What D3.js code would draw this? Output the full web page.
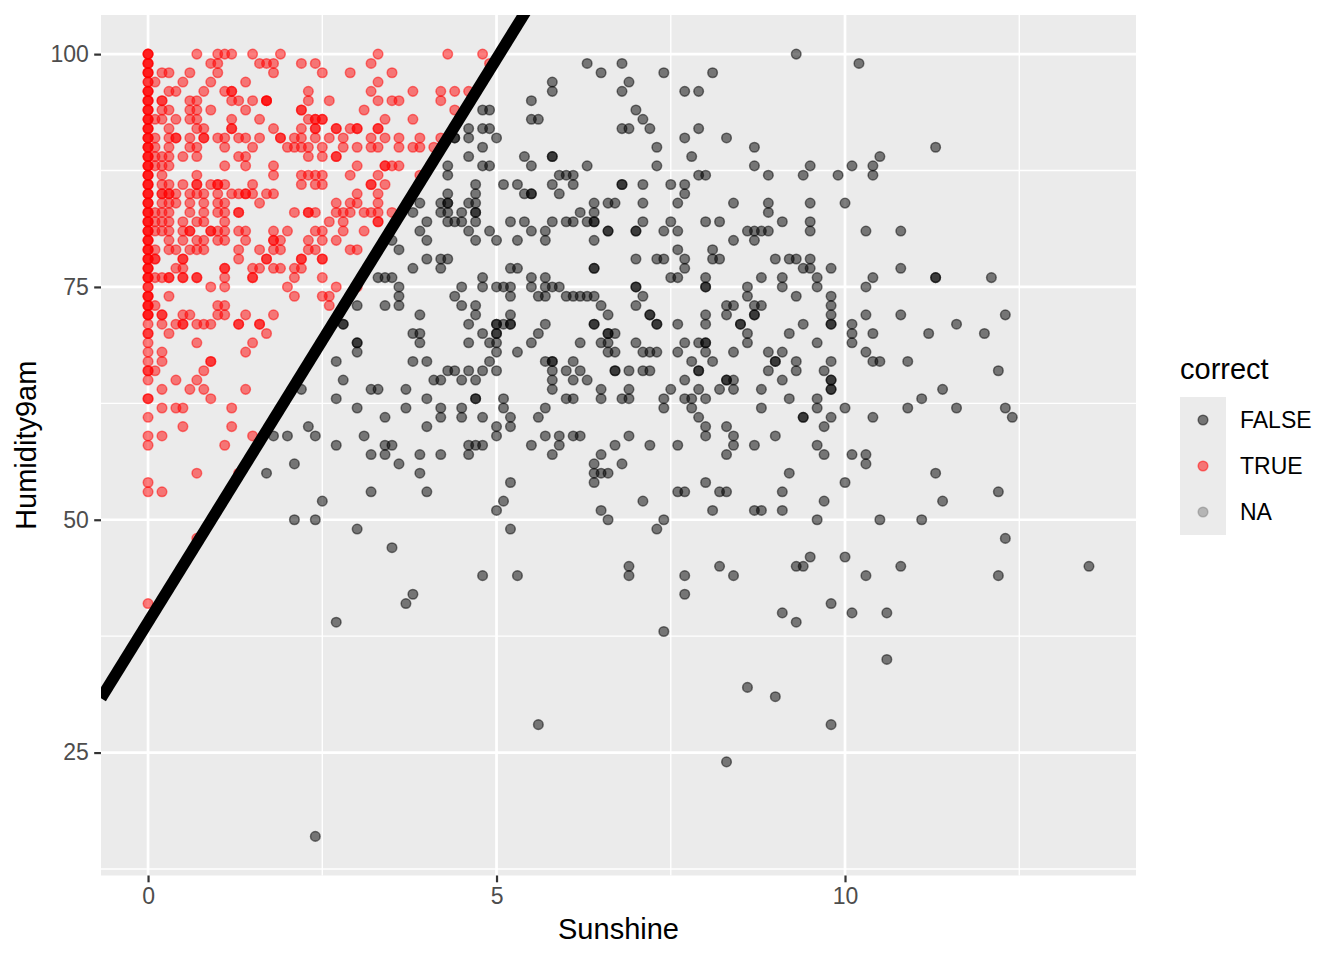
<!DOCTYPE html>
<html>
<head>
<meta charset="utf-8">
<script src="https://cdn.jsdelivr.net/npm/d3@7"></script>
<style>
  html, body { margin: 0; padding: 0; background: #ffffff; }
  svg { display: block; font-family: "Liberation Sans", Arial, Helvetica, sans-serif; }
</style>
</head>
<body>
<svg id="chart" width="1344" height="960"></svg>
<script>
// ---------------- data ----------------
const xTicks = [0, 5, 10];
const xMinorTicks = [2.5, 7.5, 12.5];
const yTicks = [25, 50, 75, 100];
const yMinorTicks = [12.5, 37.5, 62.5, 87.5];
const xLabel = "Sunshine";
const yLabel = "Humidity9am";
const legendTitle = "correct";
const legendLabels = ["FALSE", "TRUE", "NA"];
const legendColors = ["#000000", "#FF0000", "#7F7F7F"];
const xDomain = [-0.675, 14.175];
const yDomain = [11.8, 104.2];
// fitted boundary line (intercept, slope)
const lineIntercept = 39.0;
const lineSlope = 12.1;

// TRUE points at Sunshine = 0 : [Humidity9am, count]
const trueAtZero = [[100,3],[99,3],[98,3],[97,2],[96,3],[95,3],[94,3],[93,3],[92,3],[91,3],[90,3],[89,3],[88,3],[87,3],[86,3],[85,3],[84,3],[83,3],[82,3],[81,3],[80,3],[79,3],[78,3],[77,3],[76,3],[75,2],[74,3],[73,3],[72,3],[71,1],[70,2],[69,1],[68,1],[67,1],[66,2],[65,1],[63,2],[61,1],[59,1],[58,1],[54,1],[53,1],[41,1]];

// TRUE points by Humidity9am row: [humidity, [sunshine values]]
const trueRows = [
[100,[0.7,1.0,1.1,1.2,1.5,1.9,3.3,4.3,4.8]],
[99,[0.9,1.0,1.6,1.7,1.8,2.2,2.4,3.2,4.9]],
[98,[0.2,0.3,0.6,1.0,1.8,2.5,2.9,3.5]],
[97,[0.1,0.5,0.9,1.4,3.3]],
[96,[0.3,0.4,0.8,1.1,1.2,1.2,2.3,3.2,3.8,4.2,4.4,4.6]],
[95,[0.2,0.2,0.6,0.7,1.2,1.3,1.5,1.7,1.7,1.7,2.3,2.6,3.3,3.5,3.6,4.2]],
[94,[0.2,0.3,0.6,0.7,0.9,1.4,2.2,2.2,3.1,4.4]],
[93,[0.1,0.2,0.4,0.6,0.7,1.2,1.6,2.3,2.4,2.4,2.5,2.5,3.4,3.8]],
[92,[0.3,0.7,0.8,1.2,1.2,1.8,2.2,2.4,2.4,2.7,2.7,2.9,3.0,3.0,3.3,3.3]],
[91,[0.1,0.3,0.4,0.4,0.6,0.8,0.8,1.0,1.1,1.3,1.4,1.6,1.9,1.9,2.1,2.2,2.4,2.6,2.8,3.2,3.4,3.6,3.9,4.2]],
[90,[0.1,0.3,0.6,0.7,1.1,1.5,2.0,2.1,2.2,2.3,2.5,2.8,3.0,3.2,3.3,3.6,3.8,3.9,4.1]],
[89,[0.1,0.2,0.3,0.5,0.7,1.3,1.4,2.3,2.5,2.7,2.7]],
[88,[0.1,0.2,0.3,1.1,1.4,1.8,3.0,3.4,3.4,3.5,3.6]],
[87,[0.2,0.7,1.8,2.2,2.3,2.4,2.5,2.9,3.3,3.9]],
[86,[0.2,0.3,0.5,0.7,0.7,0.9,1.0,1.0,1.1,1.5,2.2,2.4,2.5,3.2,3.2,3.4]],
[85,[0.2,0.2,0.3,0.3,0.4,0.6,0.7,0.8,1.0,1.2,1.3,1.4,1.4,1.5,1.7,1.8,3.0,3.3]],
[84,[0.2,0.3,0.4,0.6,0.8,1.0,1.1,1.6,2.7,2.9,3.0,3.3]],
[83,[0.1,0.2,0.3,0.6,0.8,1.0,1.1,1.3,1.3,2.1,2.3,2.3,2.4,2.7,2.8,2.9,3.1,3.2,3.3,3.5]],
[82,[0.1,0.2,0.3,0.5,0.7,0.8,1.1,2.6,2.8,3.3,3.3]],
[81,[0.1,0.2,0.3,0.5,0.6,0.6,0.9,0.9,1.0,1.1,1.3,1.4,1.8,2.0,2.4,2.5,2.8,3.1]],
[80,[0.3,0.5,0.7,0.8,1.0,1.1,1.4,1.8,1.8,1.9,2.3,2.5,2.7]],
[79,[0.1,0.3,0.4,0.6,0.7,0.8,1.3,1.6,1.8,1.9,2.3,2.4,2.9,3.0]],
[78,[0.1,0.1,0.5,0.5,1.3,1.7,1.7,2.2,2.2,2.5,2.5]],
[77,[0.4,0.5,1.1,1.1,1.5,1.6,1.8,1.9,2.1,2.2]],
[76,[0.1,0.2,0.3,0.3,0.5,0.5,0.7,0.7,1.1,1.5,1.5,2.1,2.5]],
[75,[0.9,1.1,2.0,2.7,3.0]],
[74,[0.3,2.1,2.5,2.6]],
[73,[0.1,1.0,1.1,2.6]],
[72,[0.2,0.2,0.5,0.6,1.0,1.1,1.4,1.8]],
[71,[0.2,0.4,0.5,0.5,0.7,0.8,0.9,1.3,1.3,1.6,1.6]],
[70,[0.3,1.7]],
[69,[0.7,1.5]],
[68,[0.2,1.4]],
[67,[0.2,0.9,0.9]],
[66,[0.1,0.8]],
[65,[0.4,0.7]],
[64,[0.2,0.6,0.8,1.4]],
[63,[0.9]],
[62,[0.2,0.4,0.5,1.2]],
[60,[0.5,1.2]],
[59,[0.2,1.5]],
[58,[1.1]],
[55,[0.7,1.3]],
[53,[0.2]],
[48,[0.7]]
];

// FALSE points by Humidity9am row: [humidity, [sunshine values]]
const falseRows = [
[100,[9.3]],
[99,[6.3,6.8,10.2]],
[98,[6.5,7.4,8.1]],
[97,[5.8,6.9]],
[96,[5.8,6.8,7.7,7.9]],
[95,[5.5]],
[94,[4.8,4.9,7.0]],
[93,[5.5,5.6,7.1]],
[92,[4.6,4.8,4.9,6.8,6.9,7.2,7.9]],
[91,[4.4,4.4,4.6,5.0,7.7,8.3]],
[90,[4.8,7.3,8.7,11.3]],
[89,[4.6,5.4,5.8,5.8,7.8,10.5]],
[88,[4.3,4.8,4.9,5.5,6.3,7.3,8.7,9.5,10.1,10.4]],
[87,[4.3,5.9,6.0,6.1,7.9,8.0,8.9,9.4,9.9,10.4]],
[86,[4.7,5.1,5.3,5.8,6.1,6.8,6.8,7.1,7.5,7.7]],
[85,[4.3,4.7,5.4,5.5,5.5,5.9,7.7]],
[84,[3.9,4.2,4.3,4.3,4.6,4.7,6.4,6.6,6.7,7.1,7.6,8.4,8.9,9.5,10.0]],
[83,[3.8,4.2,4.3,4.5,4.7,4.7,6.2,6.4,8.9]],
[82,[4.0,4.3,4.4,4.5,4.7,5.2,5.4,5.8,6.0,6.1,6.3,6.4,6.4,7.1,7.5,8.0,8.2,9.1,9.5]],
[81,[3.9,4.6,4.9,5.5,5.7,6.6,6.6,7.0,7.0,7.4,7.6,8.6,8.7,8.8,8.9,9.5,10.3,10.8]],
[80,[3.5,4.0,4.7,5.0,5.3,5.7,6.4,8.4,8.7]],
[79,[3.6,7.6,8.1]],
[78,[4.0,4.2,4.3,7.0,7.3,7.4,7.7,8.1,8.2,9.0,9.2,9.3,9.5]],
[77,[3.8,4.2,5.2,5.3,6.4,6.4,7.7,9.4,9.5,9.8,10.8]],
[76,[3.3,3.4,3.5,4.8,5.5,5.7,7.5,7.6,8.0,8.8,9.1,9.6,10.4,11.3,11.3,12.1]],
[75,[3.6,4.5,4.8,5.0,5.1,5.2,5.5,5.7,5.8,5.9,7.0,7.0,8.0,8.0,8.6,9.1,9.6,10.3]],
[74,[3.6,4.4,5.2,5.6,5.7,6.0,6.1,6.2,6.3,6.4,7.1,8.6,9.3,9.8]],
[73,[3.0,3.4,3.6,4.5,4.7,6.5,7.0,8.3,8.4,8.7,8.8,9.8]],
[72,[3.9,4.7,5.2,6.6,7.2,7.2,8.0,8.3,8.7,8.7,9.8,10.3,10.8,12.3]],
[71,[2.8,2.8,4.6,5.0,5.0,5.1,5.2,5.2,5.7,6.4,6.4,7.3,7.3,7.6,8.0,8.5,8.5,9.4,9.8,9.8,10.1,11.6]],
[70,[3.8,3.9,4.8,5.0,5.0,5.6,6.6,6.6,6.7,8.6,9.2,10.1,10.4,11.2,12.0]],
[69,[3.0,3.0,3.9,4.6,4.9,5.0,5.5,6.2,6.5,6.6,7.0,7.7,7.9,8.0,8.0,8.6,9.6,10.1]],
[68,[3.0,5.0,5.3,6.6,6.7,7.1,7.2,7.3,7.6,8.0,8.4,8.9,9.1,10.3]],
[67,[2.7,3.8,4.0,4.9,5.7,5.8,5.8,6.1,7.8,8.1,9.0,9.0,9.3,9.8,10.4,10.5,10.9]],
[66,[4.3,4.4,4.6,4.8,5.0,5.8,6.0,6.2,6.7,6.7,6.9,7.1,7.2,7.9,7.9,8.9,9.3,9.7,12.2]],
[65,[2.8,4.1,4.2,4.5,4.7,5.8,6.1,6.3,7.7,8.3,8.3,8.4,9.1,9.8,9.8]],
[64,[2.2,3.2,3.3,3.7,5.8,6.5,6.9,7.5,7.9,8.2,8.4,8.8,9.8,9.8,11.4]],
[63,[2.7,4.0,4.7,4.7,5.1,6.0,6.1,6.5,6.8,6.9,7.4,7.7,7.8,8.0,9.2,9.6,11.1]],
[62,[3.0,3.7,4.2,4.5,5.1,5.7,7.4,7.8,8.8,9.6,10.0,10.9,11.6,12.3]],
[61,[3.4,4.2,4.5,4.8,5.2,5.6,7.9,9.4,9.4,9.8,10.4,12.4]],
[60,[2.3,4.0,5.0,5.2,8.0,8.3,9.7]],
[59,[1.8,2.0,2.4,3.1,5.0,5.7,5.9,6.1,6.2,6.9,8.0,8.4,9.0]],
[58,[2.7,3.4,3.5,4.6,4.7,4.8,5.5,5.9,6.7,7.2,7.6,8.4,8.7,9.6]],
[57,[3.2,3.4,3.9,4.2,4.6,5.8,6.5,8.3,9.7,10.1,10.3]],
[56,[2.1,3.6,6.4,6.8,10.3]],
[55,[1.7,3.9,6.4,6.5,6.6,9.2,11.3]],
[54,[5.2,6.4,8.0,10.0]],
[53,[3.2,4.0,7.6,7.7,8.2,8.3,9.1,12.2]],
[52,[2.5,5.1,7.1,9.7,11.4]],
[51,[5.0,6.5,8.1,8.7,8.8,9.1]],
[50,[2.1,2.4,6.6,7.4,9.6,10.5,11.1]],
[49,[3.0,5.2,7.3]],
[48,[12.3]],
[47,[3.5]],
[46,[9.5,10.0]],
[45,[6.9,8.2,9.3,9.4,10.8,13.5]],
[44,[4.8,5.3,6.9,7.7,8.4,10.3,12.2]],
[42,[3.8,7.7]],
[41,[3.7,9.8]],
[40,[9.1,10.1,10.6]],
[39,[2.7,9.3]],
[38,[7.4]],
[35,[10.6]],
[32,[8.6]],
[31,[9.0]],
[28,[5.6,9.8]],
[24,[8.3]],
[16,[2.4]]
];

// ---------------- build point table ----------------
const points = [];
falseRows.forEach(([h, xs]) => xs.forEach(s => points.push({sun: s, hum: h, correct: "FALSE"})));
trueAtZero.forEach(([h, n]) => { for (let i = 0; i < n; i++) points.push({sun: 0, hum: h, correct: "TRUE"}); });
trueRows.forEach(([h, xs]) => xs.forEach(s => points.push({sun: s, hum: h, correct: "TRUE"})));

// ---------------- layout ----------------
const panel = {left: 101, right: 1136, top: 15, bottom: 875.5};
const svg = d3.select("#chart");
const x = d3.scaleLinear().domain(xDomain).range([panel.left, panel.right]);
const y = d3.scaleLinear().domain(yDomain).range([panel.bottom, panel.top]);
const color = d3.scaleOrdinal().domain(legendLabels).range(legendColors);

svg.append("defs").append("clipPath").attr("id", "panelClip")
  .append("rect")
  .attr("x", panel.left).attr("y", panel.top)
  .attr("width", panel.right - panel.left).attr("height", panel.bottom - panel.top);

// panel background
svg.append("rect")
  .attr("x", panel.left).attr("y", panel.top)
  .attr("width", panel.right - panel.left).attr("height", panel.bottom - panel.top)
  .attr("fill", "#EBEBEB");

const grid = svg.append("g");
// minor grid
grid.selectAll("line.xminor").data(xMinorTicks).join("line")
  .attr("x1", d => x(d)).attr("x2", d => x(d))
  .attr("y1", panel.top).attr("y2", panel.bottom)
  .attr("stroke", "#FFFFFF").attr("stroke-width", 1.35);
grid.selectAll("line.yminor").data(yMinorTicks).join("line")
  .attr("x1", panel.left).attr("x2", panel.right)
  .attr("y1", d => y(d)).attr("y2", d => y(d))
  .attr("stroke", "#FFFFFF").attr("stroke-width", 1.35);
// major grid
grid.append("g").selectAll("line").data(xTicks).join("line")
  .attr("x1", d => x(d)).attr("x2", d => x(d))
  .attr("y1", panel.top).attr("y2", panel.bottom)
  .attr("stroke", "#FFFFFF").attr("stroke-width", 2.7);
grid.append("g").selectAll("line").data(yTicks).join("line")
  .attr("x1", panel.left).attr("x2", panel.right)
  .attr("y1", d => y(d)).attr("y2", d => y(d))
  .attr("stroke", "#FFFFFF").attr("stroke-width", 2.7);

// points
const pointR = 4.8;
svg.append("g").attr("clip-path", "url(#panelClip)")
  .selectAll("circle").data(points).join("circle")
  .attr("cx", d => x(d.sun)).attr("cy", d => y(d.hum))
  .attr("r", pointR)
  .attr("fill", d => color(d.correct)).attr("fill-opacity", 0.5)
  .attr("stroke", d => color(d.correct)).attr("stroke-opacity", 0.5)
  .attr("stroke-width", 1.5);

// boundary line
const lineGen = d3.line().x(d => x(d)).y(d => y(lineIntercept + lineSlope * d));
svg.append("path").attr("clip-path", "url(#panelClip)")
  .datum(xDomain)
  .attr("d", lineGen)
  .attr("fill", "none").attr("stroke", "#000000").attr("stroke-width", 11.5);

// axes
const tickLen = 6.8;
const xAxis = svg.append("g").attr("transform", `translate(0,${panel.bottom})`)
  .call(d3.axisBottom(x).tickValues(xTicks).tickSize(tickLen).tickPadding(5.4).tickFormat(d3.format("d")));
const yAxis = svg.append("g").attr("transform", `translate(${panel.left},0)`)
  .call(d3.axisLeft(y).tickValues(yTicks).tickSize(tickLen).tickPadding(5.4).tickFormat(d3.format("d")));
[xAxis, yAxis].forEach(a => {
  a.select(".domain").remove();
  a.selectAll(".tick line").attr("stroke", "#333333").attr("stroke-width", 2.2);
  a.selectAll(".tick text").attr("fill", "#4D4D4D").attr("font-size", 23)
    .attr("font-family", "\"Liberation Sans\", Arial, Helvetica, sans-serif");
});

// axis titles
svg.append("text").attr("x", (panel.left + panel.right) / 2).attr("y", 939)
  .attr("text-anchor", "middle").attr("font-size", 29).attr("fill", "#000000")
  .text(xLabel);
svg.append("text")
  .attr("transform", `translate(36,${(panel.top + panel.bottom) / 2}) rotate(-90)`)
  .attr("text-anchor", "middle").attr("font-size", 29).attr("fill", "#000000")
  .text(yLabel);

// legend
const legend = svg.append("g");
legend.append("text").attr("x", 1180).attr("y", 379)
  .attr("font-size", 29).attr("fill", "#000000").text(legendTitle);
const keySize = 46, keyTop = 397, keyLeft = 1180;
legend.append("rect").attr("x", keyLeft).attr("y", keyTop)
  .attr("width", keySize).attr("height", keySize * legendLabels.length)
  .attr("fill", "#EBEBEB");
const items = legend.selectAll("g.item").data(legendLabels).join("g")
  .attr("transform", (d, i) => `translate(${keyLeft + keySize / 2},${keyTop + keySize * i + keySize / 2})`);
items.append("circle").attr("r", pointR)
  .attr("fill", d => color(d)).attr("fill-opacity", 0.5)
  .attr("stroke", d => color(d)).attr("stroke-opacity", 0.5).attr("stroke-width", 1.5);
items.append("text").attr("x", 1240 - (keyLeft + keySize / 2)).attr("y", 8.2)
  .attr("font-size", 23).attr("fill", "#000000").text(d => d);
</script>
</body>
</html>
